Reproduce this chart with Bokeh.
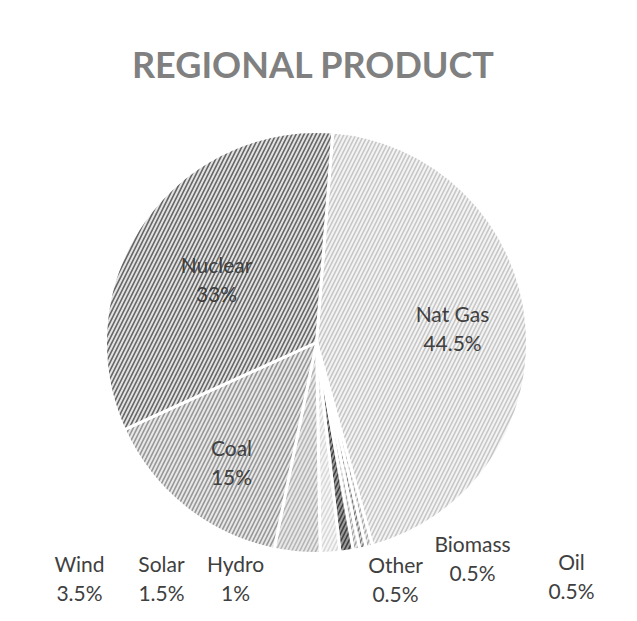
import numpy as np
from bokeh.plotting import figure
from bokeh.models import Range1d, ColumnDataSource
from bokeh.core.properties import value
from bokeh.embed import file_html
from bokeh.resources import INLINE

# ---- data ----
categories = ["Nat Gas", "Oil", "Biomass", "Other", "Hydro", "Solar", "Wind", "Coal", "Nuclear"]
shares = [44.5, 0.5, 0.5, 0.5, 1.0, 1.5, 3.5, 15.0, 33.0]
pct_labels = ["44.5%", "0.5%", "0.5%", "0.5%", "1%", "1.5%", "3.5%", "15%", "33%"]
title_text = "REGIONAL PRODUCT"

# ---- styles ----
fill_colors = ["#f4f4f4", "#ececec", "#d8d8d8", "#e8e8e8", "#9a9a9a", "#f6f6f6", "#e8e8e8", "#e8e8e8", "#e2e2e2"]
hatch_colors = ["#c6c6c6", "#a8a8a8", "#7a7a7a", "#a4a4a4", "#3e3e3e", "#d8d8d8", "#b4b4b4", "#969696", "#646464"]
# label centres (reference pixel coords)
label_pos = [(452, 333), (571, 581), (472, 563), (395, 584), (235, 583), (161, 583), (79, 583), (231, 467), (216, 284)]

W, H = 621, 605
SHIFT = 5  # move content up so the bottom labels fit
p = figure(width=W, height=H, x_range=Range1d(0, W), y_range=Range1d(0, H),
           output_backend="svg", toolbar_location=None, min_border=0)
p.axis.visible = False
p.grid.visible = False
p.outline_line_color = None
p.background_fill_color = "white"

def fx(x):
    return x

def fy(y):
    return H - (y - SHIFT)

cx, cy, r = fx(316), fy(347), 211
rot = np.deg2rad(4.4)  # angle of first slice, clockwise from top

vals = np.array(shares, dtype=float)
frac = vals / vals.sum()
cum = np.concatenate([[0.0], np.cumsum(frac)])
theta1 = rot + 2 * np.pi * cum[:-1]
theta2 = rot + 2 * np.pi * cum[1:]
start = np.pi / 2 - theta2
end = np.pi / 2 - theta1

src = ColumnDataSource(dict(start=start, end=end, fill=fill_colors, hatch=hatch_colors,
                            x=[cx] * len(categories), y=[cy] * len(categories)))
p.wedge(x="x", y="y", radius=r, start_angle="start", end_angle="end", direction="anticlock",
        fill_color="fill", hatch_color="hatch", hatch_pattern="/", hatch_scale=8, hatch_weight=1.6,
        line_color="white", line_width=3, source=src)

lx = [fx(a) for a, b in label_pos]
ly = [fy(b) for a, b in label_pos]
lsrc = ColumnDataSource(dict(x=lx, y1=[v + 15 for v in ly], y2=[v - 14 for v in ly],
                             name=categories, pct=pct_labels))
for col, ycol in (("name", "y1"), ("pct", "y2")):
    p.text(x="x", y=ycol, text=col, source=lsrc, text_align="center", text_baseline="middle",
           text_font=value("Lato"), text_font_size="21px", text_color="#404040")

p.text(x=[fx(313)], y=[fy(68)], text=[title_text], text_align="center", text_baseline="middle",
       text_font=value("Lato"), text_font_style="bold", text_font_size="36px", text_color="#808080")

open("out.html", "w").write(file_html(p, INLINE))
